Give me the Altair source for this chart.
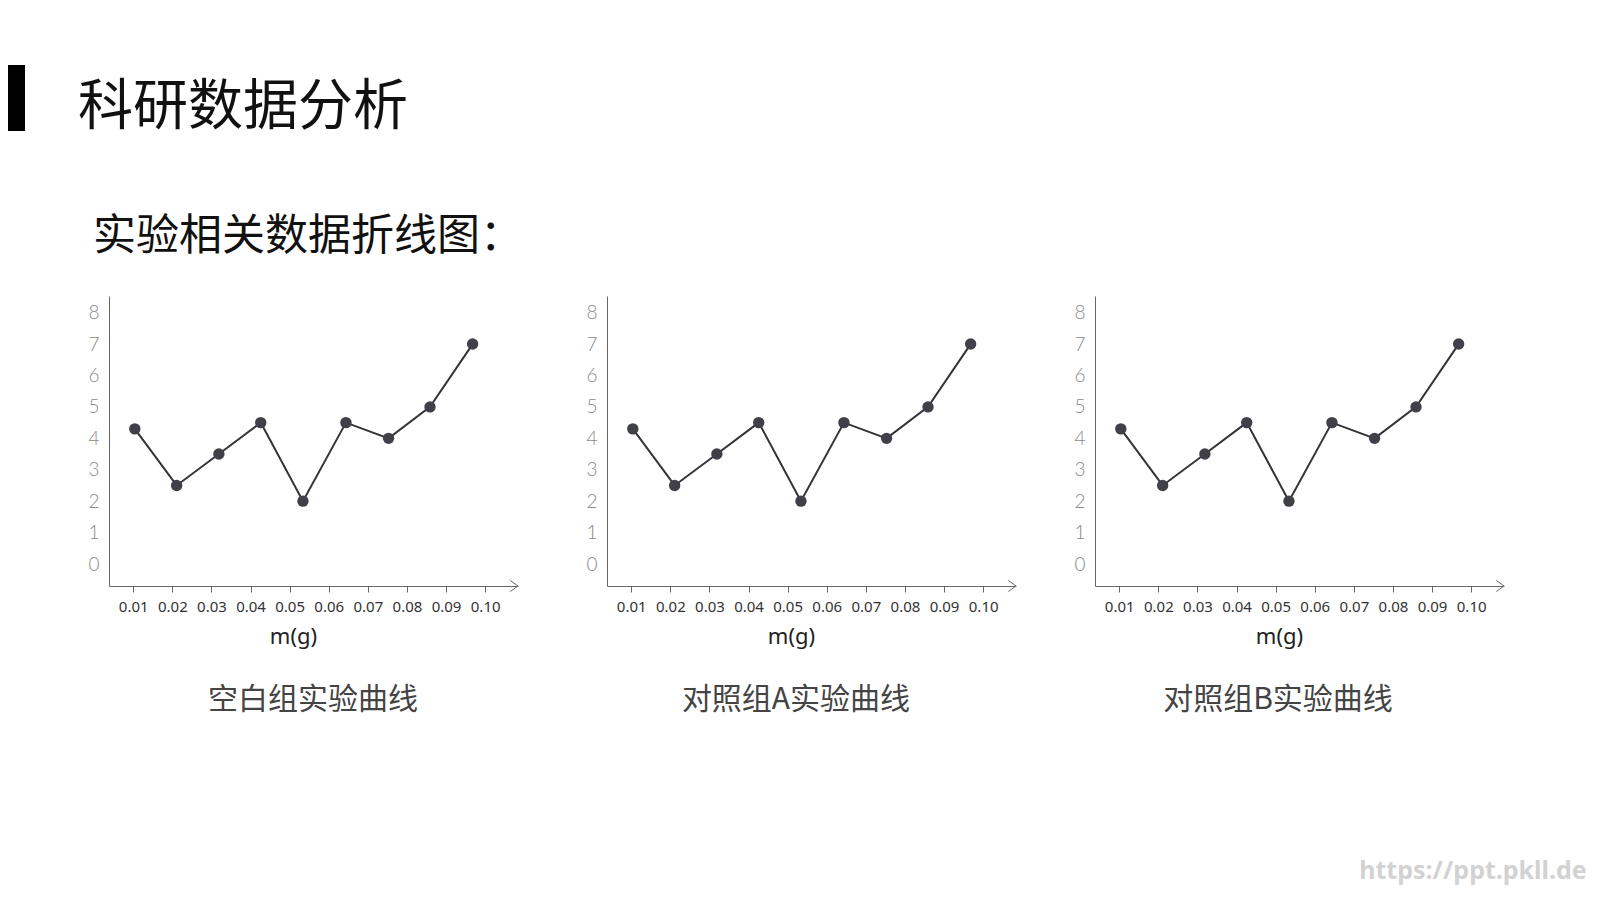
import altair as alt
import pandas as pd

# ---------------- data ----------------
page_title = ["科研数据分析"]
section_title = ["实验相关数据折线图："]
panel_titles = ["空白组实验曲线", "对照组A实验曲线", "对照组B实验曲线"]
watermark = ["https://ppt.pkll.de"]
x_title = "m(g)"
x_ticks = [0.01, 0.02, 0.03, 0.04, 0.05, 0.06, 0.07, 0.08, 0.09, 0.10]
y_ticks = [0, 1, 2, 3, 4, 5, 6, 7, 8]
x_domain = [0.0038, 0.1084]
y_domain = [-0.7, 8.53]

mass = [0.0104, 0.0211, 0.0319, 0.0426, 0.0534, 0.0644, 0.0753, 0.0859, 0.0968]
blank_group = [4.3, 2.5, 3.5, 4.5, 2.0, 4.5, 4.0, 5.0, 7.0]
control_a = [4.3, 2.5, 3.5, 4.5, 2.0, 4.5, 4.0, 5.0, 7.0]
control_b = [4.3, 2.5, 3.5, 4.5, 2.0, 4.5, 4.0, 5.0, 7.0]

CJK = "Noto Sans CJK SC"
W, H = 409, 290


def panel(values, title, title_x, left_spacer=False, mark_text=None):
    df = pd.DataFrame({"m": mass, "v": values})
    xs = alt.Scale(domain=x_domain, nice=False, zero=False)
    ys = alt.Scale(domain=y_domain, nice=False, zero=False)
    x_axis = alt.Axis(
        values=x_ticks, format=".2f", title=x_title, grid=False,
        domainColor="#666666", domainWidth=1, tickColor="#666666", tickSize=6,
        labelFont="Noto Sans", labelFontSize=15, labelColor="#333333",
        labelPadding=7, labelFlush=False, labelOverlap=False,
        titleFont="Noto Sans", titleFontSize=22, titleFontWeight="normal",
        titleColor="#222222", titleX=184, titleY=50, titleBaseline="middle",
    )
    y_axis = alt.Axis(
        values=y_ticks, title=None, grid=False, ticks=False,
        domainColor="#666666", domainWidth=1, labelOverlap=False,
        labelFont="Lato", labelFontWeight=300, labelFontSize=19,
        labelColor="#8a8a8a", labelPadding=10, labelSeparation=0,
    )
    x = alt.X("m:Q", scale=xs, axis=x_axis)
    y = alt.Y("v:Q", scale=ys, axis=y_axis)
    base = alt.Chart(df)
    line = base.mark_line(color="#333338", strokeWidth=2).encode(x=x, y=y)
    pts = base.mark_circle(size=130, color="#404048", opacity=1).encode(x=x, y=y)
    end_df = pd.DataFrame({"m": [x_domain[1]], "v": [y_domain[0]]})
    arrow = alt.Chart(end_df).mark_point(
        shape="M -1 -0.72 L 0 0 L -1 0.72", size=237, filled=False,
        color="#666666", strokeWidth=1, opacity=1,
    ).encode(x=x, y=y)
    ttl = alt.Chart(pd.DataFrame({"t": [title]})).mark_text(
        font=CJK, fontSize=30, color="#444444", align="center", baseline="middle",
    ).encode(text="t:N", x=alt.value(title_x), y=alt.value(404))
    layers = [line, pts, arrow, ttl]
    if left_spacer:
        sp = alt.Chart(end_df).mark_rect(opacity=0).encode(
            x=alt.value(-101), x2=alt.value(-100), y=alt.value(0), y2=alt.value(1)
        )
        layers.append(sp)
    if mark_text is not None:
        wm = alt.Chart(pd.DataFrame({"t": mark_text})).mark_text(
            font="Noto Sans", fontSize=25, fontWeight="bold", color="#d2d2d2",
            align="center", baseline="alphabetic",
        ).encode(text="t:N", x=alt.value(378), y=alt.value(583))
        layers.append(wm)
    return alt.layer(*layers).properties(width=W, height=H)


# ---------------- header ----------------
hdr = pd.DataFrame({"t": page_title})
bar = alt.Chart(hdr).mark_rect(color="#000000").encode(
    x=alt.value(-101), x2=alt.value(-84), y=alt.value(57), y2=alt.value(123)
)
t1 = alt.Chart(hdr).mark_text(
    font=CJK, fontSize=55, align="left", baseline="middle", color="#111111"
).encode(text="t:N", x=alt.value(-31), y=alt.value(99))
t2 = alt.Chart(pd.DataFrame({"t": section_title})).mark_text(
    font=CJK, fontSize=43, align="left", baseline="middle", color="#111111"
).encode(text="t:N", x=alt.value(-16), y=alt.value(229))
header = alt.layer(bar, t1, t2).properties(width=600, height=288)

p1 = panel(blank_group, panel_titles[0], 204, left_spacer=True)
p2 = panel(control_a, panel_titles[1], 189)
p3 = panel(control_b, panel_titles[2], 183, mark_text=watermark)

row = alt.hconcat(alt.hconcat(p1, p2, spacing=65), p3, spacing=55)

chart = (
    alt.vconcat(header, row, spacing=0)
    .properties(
        padding={"left": 0, "top": 0, "right": 4, "bottom": 8},
        background="white",
    )
    .configure_view(stroke=None)
    .configure_axis(labelOverlap=False)
)

chart.save("out.html", embed_options={"renderer": "svg", "actions": False})
